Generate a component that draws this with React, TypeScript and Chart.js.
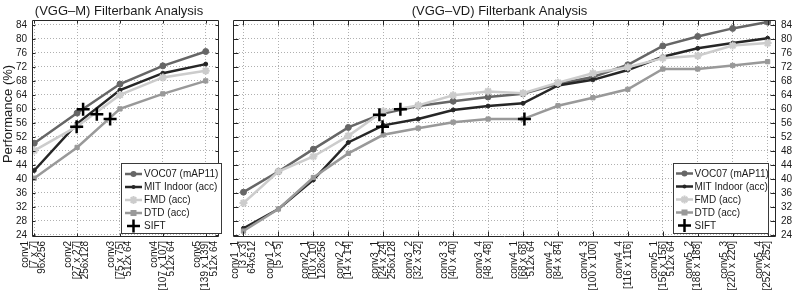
import React, { useEffect, useRef } from "react";
import { Chart, registerables } from "chart.js";

Chart.register(...registerables);

// ---------- DATA ----------
const seriesNames = ["VOC07 (mAP11)", "MIT Indoor (acc)", "FMD (acc)", "DTD (acc)"];
const siftName = "SIFT";

const yTickValues = [24, 28, 32, 36, 40, 44, 48, 52, 56, 60, 64, 68, 72, 76, 80, 84];

// VGG-M panel
const vggMTitle = "(VGG–M) Filterbank Analysis";
const vggMPositions = [1, 2, 3, 4, 5];
const vggMLabels = [
  ["conv1", "[7 x 7]", "96x256"],
  ["conv2", "[27 x 27]", "256x128"],
  ["conv3", "[75 x 75]", "512x 64"],
  ["conv4", "[107 x 107]", "512x 64"],
  ["conv5", "[139 x 139]", "512x 64"],
];
const vggMVoc07 = [50.2, 58.8, 67.1, 72.3, 76.4];
const vggMMit = [42.4, 55.8, 65.4, 70.2, 72.8];
const vggMFmd = [48.1, 55.0, 64.0, 69.0, 70.9];
const vggMDtd = [40.2, 49.0, 60.0, 64.3, 68.0];
const vggMSiftX = [1.99, 2.14, 2.46, 2.77];
const vggMSiftY = [54.9, 59.9, 58.5, 57.1];

// VGG-VD panel
const vggVDTitle = "(VGG–VD) Filterbank Analysis";
const vggVDPositions = [1, 2, 3, 4, 5, 6, 7, 8, 9, 10, 11, 12, 13, 14, 15, 16];
const vggVDLabels = [
  ["conv1_1", "[3 x 3]", "64x512"],
  ["conv1_2", "[5 x 5]"],
  ["conv2_1", "[10 x 10]", "128x256"],
  ["conv2_2", "[14 x 14]"],
  ["conv3_1", "[24 x 24]", "256x128"],
  ["conv3_2", "[32 x 32]"],
  ["conv3_3", "[40 x 40]"],
  ["conv3_4", "[48 x 48]"],
  ["conv4_1", "[68 x 68]", "512x 64"],
  ["conv4_2", "[84 x 84]"],
  ["conv4_3", "[100 x 100]"],
  ["conv4_4", "[116 x 116]"],
  ["conv5_1", "[156 x 156]", "512x 64"],
  ["conv5_2", "[188 x 188]"],
  ["conv5_3", "[220 x 220]"],
  ["conv5_4", "[252 x 252]"],
];
const vggVDVoc07 = [36.2, 42.1, 48.5, 54.7, 58.7, 60.8, 62.2, 63.4, 64.3, 67.1, 69.1, 72.6, 78.0, 80.7, 83.0, 84.8];
const vggVDMit = [25.9, 31.4, 39.7, 50.4, 55.3, 57.1, 59.7, 60.8, 61.6, 66.7, 68.3, 71.1, 74.9, 77.3, 78.8, 80.2];
const vggVDFmd = [33.1, 42.1, 46.4, 52.3, 59.3, 61.0, 63.9, 65.0, 64.5, 67.5, 70.2, 71.9, 74.5, 75.2, 78.1, 78.8];
const vggVDDtd = [25.1, 31.4, 40.4, 47.3, 52.6, 54.5, 56.2, 57.1, 57.1, 60.9, 63.2, 65.6, 71.4, 71.4, 72.4, 73.5];
const vggVDSiftX = [4.89, 4.98, 5.49, 9.04];
const vggVDSiftY = [58.3, 54.9, 59.9, 57.1];

const yLabelText = "Performance (%)";

// ---------- STYLE ----------
const FONT = "'Liberation Sans', Arial, Helvetica, sans-serif";
const TEXT = "#1a1a1a";
const AXIS = "#262626";
const seriesColors = ["#666666", "#262626", "#cccccc", "#999999"];
const seriesPointStyles = ["circle", "circle", "star", "rect"];
const seriesPointRadii = [3, 2, 4, 3];
const X_LABEL_LINE = 8.5;

function buildDatasets(xs: number[], series: number[][], siftX: number[], siftY: number[]) {
  const ds: any[] = series.map((vals, i) => ({
    label: seriesNames[i],
    data: vals.map((v, j) => ({ x: xs[j], y: v })),
    borderColor: seriesColors[i],
    backgroundColor: seriesColors[i],
    pointBackgroundColor: seriesColors[i],
    pointBorderColor: seriesColors[i],
    borderWidth: 2.5,
    pointStyle: seriesPointStyles[i],
    pointRadius: seriesPointRadii[i],
    pointBorderWidth: seriesPointStyles[i] === "star" ? 2 : 1,
    tension: 0,
    order: 4 - i,
  }));
  ds.push({
    label: siftName,
    data: siftX.map((x, j) => ({ x, y: siftY[j] })),
    showLine: false,
    borderColor: "#000",
    backgroundColor: "#000",
    pointStyle: "cross",
    pointRadius: 6.5,
    pointBorderWidth: 2.5,
    pointBorderColor: "#000",
    order: 0,
  });
  return ds;
}

function drawMarker(ctx: CanvasRenderingContext2D, style: string, x: number, y: number, r: number, color: string) {
  ctx.save();
  ctx.fillStyle = color;
  ctx.strokeStyle = color;
  if (style === "circle") {
    ctx.beginPath();
    ctx.arc(x, y, r, 0, Math.PI * 2);
    ctx.fill();
  } else if (style === "rect") {
    ctx.fillRect(x - r, y - r, 2 * r, 2 * r);
  } else if (style === "star") {
    ctx.lineWidth = 2;
    ctx.beginPath();
    ctx.moveTo(x - r, y); ctx.lineTo(x + r, y);
    ctx.moveTo(x, y - r); ctx.lineTo(x, y + r);
    const d = r * Math.SQRT1_2;
    ctx.moveTo(x - d, y - d); ctx.lineTo(x + d, y + d);
    ctx.moveTo(x - d, y + d); ctx.lineTo(x + d, y - d);
    ctx.stroke();
  } else if (style === "cross") {
    ctx.lineWidth = 2.5;
    ctx.beginPath();
    ctx.moveTo(x - r, y); ctx.lineTo(x + r, y);
    ctx.moveTo(x, y - r); ctx.lineTo(x, y + r);
    ctx.stroke();
  }
  ctx.restore();
}

type PanelCfg = {
  title: string;
  titleX: number;
  positions: number[];
  labels: string[][];
  series: number[][];
  siftX: number[];
  siftY: number[];
  xMin: number;
  xMax: number;
  yPos: "left" | "right";
  yWidth: number;
  padding: { top: number; left: number; right: number; bottom: number };
  tickLen: number;
  yLabel: boolean;
  legend: { x: number; y: number; w: number; h: number; row0: number; rowH: number; lx0: number; lx1: number; tx: number };
};

function decorPlugin(cfg: PanelCfg) {
  return {
    id: "decor",
    afterDatasetsDraw(chart: any) {
      const { ctx, chartArea: a, scales } = chart;
      const L = Math.round(a.left) + 0.5;
      const R = Math.round(a.right) - 0.5;
      const T = Math.round(a.top) + 0.5;
      const B = Math.round(a.bottom) - 0.5;
      ctx.save();
      ctx.strokeStyle = AXIS;
      ctx.lineWidth = 1;
      ctx.beginPath();
      ctx.rect(L, T, R - L, B - T);
      const tl = cfg.tickLen;
      for (const v of cfg.positions) {
        const px = Math.round(scales.x.getPixelForValue(v)) + 0.5;
        ctx.moveTo(px, B); ctx.lineTo(px, B - tl);
        ctx.moveTo(px, T); ctx.lineTo(px, T + tl);
      }
      for (const v of yTickValues) {
        const py = Math.round(scales.y.getPixelForValue(v)) + 0.5;
        ctx.moveTo(L, py); ctx.lineTo(L + tl, py);
        ctx.moveTo(R, py); ctx.lineTo(R - tl, py);
      }
      ctx.stroke();
      ctx.restore();
    },
    afterDraw(chart: any) {
      const { ctx, chartArea: a, scales } = chart;
      ctx.save();
      // x tick labels (rotated, multi-line, bracket line on the tick)
      ctx.fillStyle = TEXT;
      ctx.font = `10px ${FONT}`;
      ctx.textAlign = "right";
      ctx.textBaseline = "middle";
      cfg.positions.forEach((v, i) => {
        const px = scales.x.getPixelForValue(v);
        cfg.labels[i].forEach((line, j) => {
          ctx.save();
          ctx.translate(px + (j - 1) * X_LABEL_LINE, a.bottom + 4);
          ctx.rotate(-Math.PI / 2);
          ctx.fillText(line, 0, 0);
          ctx.restore();
        });
      });
      // title
      ctx.font = `13px ${FONT}`;
      ctx.textAlign = "center";
      ctx.textBaseline = "middle";
      ctx.fillText(cfg.title, cfg.titleX, 11);
      if (cfg.yLabel) {
        ctx.save();
        ctx.translate(8, 114);
        ctx.rotate(-Math.PI / 2);
        ctx.fillText(yLabelText, 0, 0);
        ctx.restore();
      }
      // legend
      const g = cfg.legend;
      ctx.fillStyle = "#fff";
      ctx.fillRect(g.x, g.y, g.w, g.h);
      ctx.strokeStyle = "#3a3a3a";
      ctx.lineWidth = 1;
      ctx.strokeRect(g.x, g.y, g.w, g.h);
      ctx.font = `10px ${FONT}`;
      ctx.textAlign = "left";
      ctx.textBaseline = "middle";
      const names = [...seriesNames, siftName];
      names.forEach((name, i) => {
        const y = g.row0 + i * g.rowH;
        const cx = (g.lx0 + g.lx1) / 2;
        if (i < 4) {
          ctx.strokeStyle = seriesColors[i];
          ctx.lineWidth = 2.5;
          ctx.beginPath();
          ctx.moveTo(g.lx0, y);
          ctx.lineTo(g.lx1, y);
          ctx.stroke();
          drawMarker(ctx, seriesPointStyles[i], cx, y, seriesPointRadii[i], seriesColors[i]);
        } else {
          drawMarker(ctx, "cross", cx, y, 6.5, "#000");
        }
        ctx.fillStyle = TEXT;
        ctx.fillText(name, g.tx, y + 0.5);
      });
      ctx.restore();
    },
  };
}

function buildConfig(cfg: PanelCfg): any {
  return {
    type: "line",
    data: { datasets: buildDatasets(cfg.positions, cfg.series, cfg.siftX, cfg.siftY) },
    options: {
      animation: false,
      responsive: false,
      devicePixelRatio: 1,
      layout: { padding: cfg.padding },
      plugins: { legend: { display: false }, tooltip: { enabled: false }, title: { display: false } },
      scales: {
        x: {
          type: "linear",
          min: cfg.xMin,
          max: cfg.xMax,
          afterBuildTicks: (s: any) => {
            s.ticks = cfg.positions.map((v) => ({ value: v }));
          },
          afterFit: (s: any) => {
            s.height = 59;
            s.paddingLeft = 0;
            s.paddingRight = 0;
          },
          ticks: { display: false, autoSkip: false },
          grid: { color: "#b0b0b0", lineWidth: 1, drawTicks: false },
          border: { display: false, dash: [1, 2] },
        },
        y: {
          type: "linear",
          position: cfg.yPos,
          min: 23.4,
          max: 85.4,
          afterBuildTicks: (s: any) => {
            s.ticks = yTickValues.map((v) => ({ value: v }));
          },
          afterFit: (s: any) => {
            s.width = cfg.yWidth;
            s.paddingTop = 0;
            s.paddingBottom = 0;
          },
          ticks: {
            autoSkip: false,
            padding: 5,
            color: TEXT,
            font: { family: FONT, size: 10 },
            callback: (v: any) => String(v),
          },
          grid: { color: "#b0b0b0", lineWidth: 1, drawTicks: false },
          border: { display: false, dash: [1, 2] },
        },
      },
    },
    plugins: [decorPlugin(cfg)],
  };
}

const leftCfg: PanelCfg = {
  title: vggMTitle,
  titleX: 119,
  positions: vggMPositions,
  labels: vggMLabels,
  series: [vggMVoc07, vggMMit, vggMFmd, vggMDtd],
  siftX: vggMSiftX,
  siftY: vggMSiftY,
  xMin: 0.948,
  xMax: 5.31,
  yPos: "left",
  yWidth: 32,
  padding: { top: 20, left: 0, right: 2.5, bottom: 0 },
  tickLen: 3,
  yLabel: true,
  legend: { x: 121.5, y: 163.5, w: 100, h: 70, row0: 174, rowH: 13, lx0: 125, lx1: 142, tx: 144 },
};

const RIGHT_LEFT = 224;
const rightCfg: PanelCfg = {
  title: vggVDTitle,
  titleX: 499.5 - RIGHT_LEFT,
  positions: vggVDPositions,
  labels: vggVDLabels,
  series: [vggVDVoc07, vggVDMit, vggVDFmd, vggVDDtd],
  siftX: vggVDSiftX,
  siftY: vggVDSiftY,
  xMin: 0.70,
  xMax: 16.24,
  yPos: "right",
  yWidth: 17,
  padding: { top: 20, left: 229.5 - RIGHT_LEFT, right: 0, bottom: 0 },
  tickLen: 5,
  yLabel: false,
  legend: { x: 673.5 - RIGHT_LEFT, y: 163.5, w: 95, h: 70, row0: 173.5, rowH: 13, lx0: 676 - RIGHT_LEFT, lx1: 693 - RIGHT_LEFT, tx: 694.5 - RIGHT_LEFT },
};

function Panel({ cfg, left, width }: { cfg: PanelCfg; left: number; width: number }) {
  const ref = useRef<HTMLCanvasElement | null>(null);
  useEffect(() => {
    if (!ref.current) return;
    const chart = new Chart(ref.current, buildConfig(cfg));
    return () => chart.destroy();
  }, []);
  return (
    <canvas
      ref={ref}
      width={width}
      height={296}
      style={{ position: "absolute", left, top: 0, width, height: 296 }}
    />
  );
}

export default function App() {
  return (
    <div style={{ position: "absolute", left: 0, top: 0, width: 793, height: 296, background: "#fff", overflow: "hidden" }}>
      <Panel cfg={leftCfg} left={0} width={228} />
      <Panel cfg={rightCfg} left={RIGHT_LEFT} width={793 - RIGHT_LEFT} />
    </div>
  );
}
